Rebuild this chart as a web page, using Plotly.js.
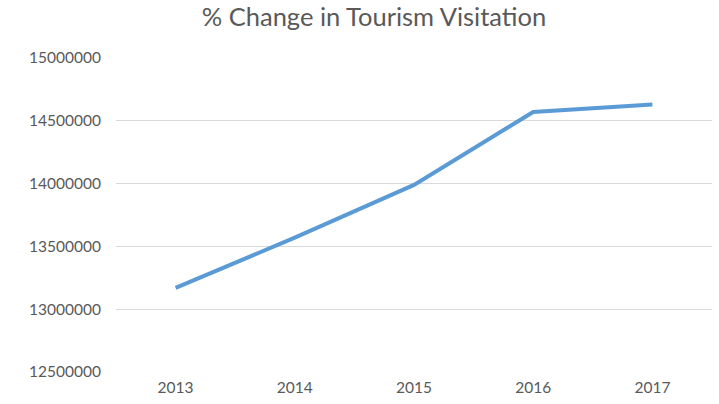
<!DOCTYPE html>
<html>
<head>
<meta charset="utf-8">
<script src="https://cdn.plot.ly/plotly-3.0.1.min.js"></script>
<style>html,body{margin:0;padding:0;background:#fff;}#chart{width:719px;height:404px;}</style>
</head>
<body>
<div id="chart"></div>
<script>
const years = ['2013', '2014', '2015', '2016', '2017'];
const visitors = [13170000, 13570000, 13990000, 14570000, 14630000];
const yTickVals = [12500000, 13000000, 13500000, 14000000, 14500000, 15000000];
const yTickText = ['12500000', '13000000', '13500000', '14000000', '14500000', '15000000'];
const chartTitle = '% Change in Tourism Visitation';

const trace = {
  x: years,
  y: visitors,
  type: 'scatter',
  mode: 'lines',
  line: {color: '#5b9bd5', width: 4},
  hoverinfo: 'x+y'
};

const layout = {
  width: 719,
  height: 404,
  margin: {l: 116, r: 7, t: 58, b: 32},
  paper_bgcolor: '#ffffff',
  plot_bgcolor: '#ffffff',
  showlegend: false,
  font: {family: 'Lato, "Open Sans", sans-serif', color: '#595959', size: 16},
  title: {
    text: chartTitle,
    font: {family: 'Lato, "Open Sans", sans-serif', size: 25.5, color: '#595959'},
    x: 374/719, xanchor: 'center', xref: 'container',
    yref: 'container', y: 1 - 17/404, yanchor: 'middle'
  },
  xaxis: {
    type: 'category',
    range: [-0.5, 4.5],
    showgrid: false,
    zeroline: false,
    showline: false,
    ticks: '',
    ticklabelstandoff: 4,
    tickfont: {size: 15.5, color: '#595959'}
  },
  yaxis: {
    range: [12500000, 15000000],
    tickvals: yTickVals,
    ticktext: yTickText,
    showgrid: true,
    gridcolor: '#d9d9d9',
    gridwidth: 1,
    zeroline: false,
    showline: false,
    ticks: '',
    ticklabelstandoff: 14,
    tickfont: {size: 15.5, color: '#595959'}
  }
};

Plotly.newPlot('chart', [trace], layout, {displayModeBar: false, staticPlot: true});
</script>
</body>
</html>
